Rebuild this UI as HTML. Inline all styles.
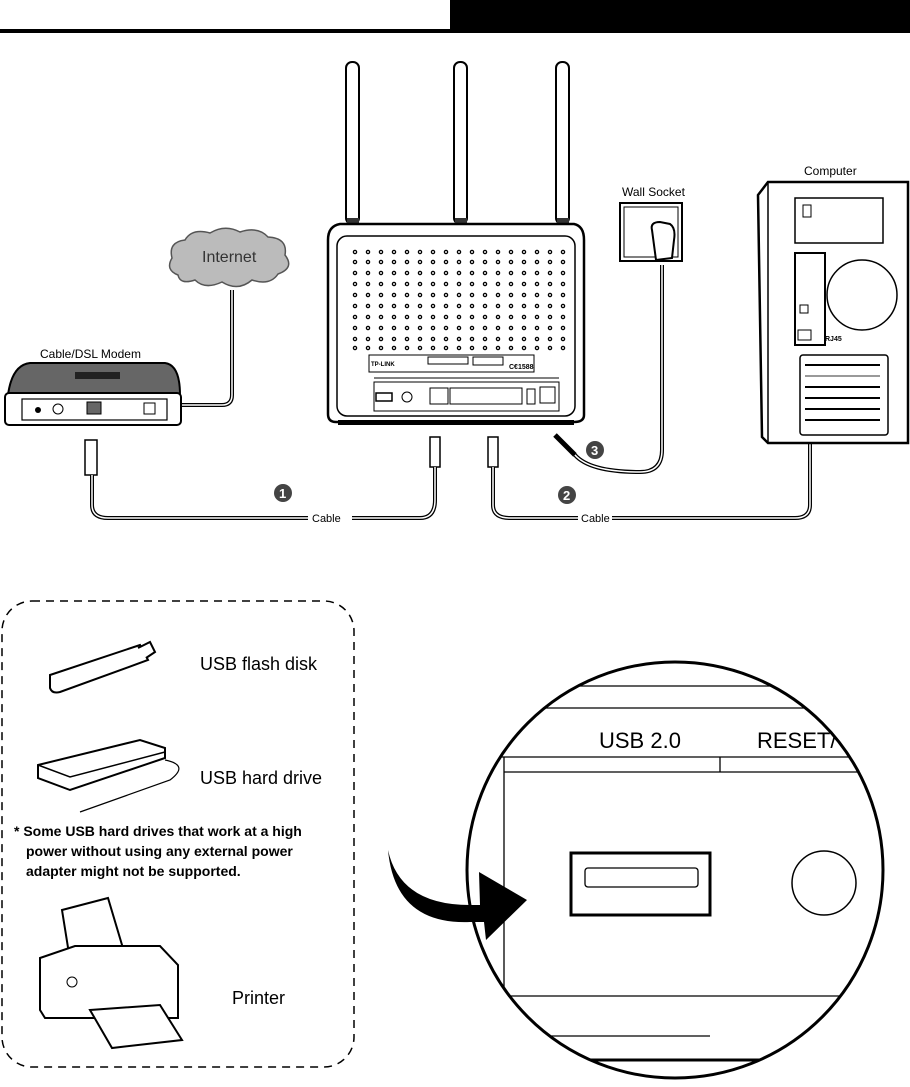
<!DOCTYPE html>
<html><head><meta charset="utf-8"><style>
html,body{margin:0;padding:0;background:#fff}
svg{display:block}
text{font-family:"Liberation Sans",sans-serif}
</style></head><body>
<svg width="910" height="1087" viewBox="0 0 910 1087" xmlns="http://www.w3.org/2000/svg">
<rect x="0" y="29" width="910" height="4" fill="#000"/>
<rect x="450" y="0" width="460" height="33" fill="#000"/>

<g fill="#fff" stroke="#000" stroke-width="2">
<rect x="346" y="62" width="13" height="162" rx="6"/>
<rect x="454" y="62" width="13" height="162" rx="6"/>
<rect x="556" y="62" width="13" height="162" rx="6"/>
</g>
<g fill="#333"><rect x="347" y="218" width="12" height="8"/><rect x="455" y="218" width="12" height="8"/><rect x="557" y="218" width="12" height="8"/></g>
<path d="M340 224 L574 224 Q584 226 584 240 L584 415 Q584 422 574 422 L336 422 Q328 422 328 414 L328 240 Q328 226 340 224 Z" fill="#fff" stroke="#000" stroke-width="2.5"/>
<rect x="337" y="236" width="238" height="180" rx="10" fill="none" stroke="#000" stroke-width="1.5"/>
<rect x="338" y="420" width="236" height="5" fill="#000"/>
<g fill="none" stroke="#000" stroke-width="1.3">
<g id="dr"><circle cx="355" cy="252" r="1.6"/><circle cx="368" cy="252" r="1.6"/><circle cx="381" cy="252" r="1.6"/><circle cx="394" cy="252" r="1.6"/><circle cx="407" cy="252" r="1.6"/><circle cx="420" cy="252" r="1.6"/><circle cx="433" cy="252" r="1.6"/><circle cx="446" cy="252" r="1.6"/><circle cx="459" cy="252" r="1.6"/><circle cx="472" cy="252" r="1.6"/><circle cx="485" cy="252" r="1.6"/><circle cx="498" cy="252" r="1.6"/><circle cx="511" cy="252" r="1.6"/><circle cx="524" cy="252" r="1.6"/><circle cx="537" cy="252" r="1.6"/><circle cx="550" cy="252" r="1.6"/><circle cx="563" cy="252" r="1.6"/></g>
<use href="#dr" y="10"/><use href="#dr" y="21"/><use href="#dr" y="32"/><use href="#dr" y="43"/><use href="#dr" y="54"/><use href="#dr" y="65"/><use href="#dr" y="76"/><use href="#dr" y="87"/><use href="#dr" y="96"/>
</g>
<g fill="none" stroke="#000" stroke-width="1">
<rect x="369" y="355" width="165" height="17"/>
<rect x="428" y="357" width="40" height="7"/>
<rect x="473" y="357" width="30" height="8"/>
<rect x="374" y="382" width="185" height="29"/>
<rect x="430" y="388" width="18" height="16"/>
<rect x="450" y="388" width="72" height="16"/>
<rect x="527" y="389" width="8" height="15"/>
<rect x="540" y="387" width="15" height="16"/>
<circle cx="407" cy="397" r="5"/>
</g>
<rect x="376" y="393" width="16" height="8" fill="none" stroke="#000" stroke-width="1.5"/>
<text x="371" y="366" font-size="6" font-weight="bold">TP-LINK</text>
<text x="509" y="369" font-size="7" font-weight="bold">C€1588</text>
<line x1="374" y1="378" x2="559" y2="378" stroke="#000" stroke-width="1"/>

<g fill="#fff" stroke="#000" stroke-width="1.5">
<rect x="430" y="437" width="10" height="30"/>
<rect x="488" y="437" width="10" height="30"/>
<rect x="85" y="440" width="12" height="35"/>
</g>
<path d="M555 435 L575 455" stroke="#000" stroke-width="5"/>
<circle cx="595" cy="450" r="9" fill="#444"/><text x="591" y="455" font-size="13" font-weight="bold" fill="#fff">3</text>
<circle cx="283" cy="493" r="9" fill="#444"/><text x="279" y="498" font-size="13" font-weight="bold" fill="#fff">1</text>
<circle cx="567" cy="495" r="9" fill="#444"/><text x="563" y="500" font-size="13" font-weight="bold" fill="#fff">2</text>

<g fill="none" stroke="#000" stroke-width="4">
<path d="M92 475 L92 505 Q92 518 108 518 L308 518"/>
<path d="M352 518 L420 518 Q435 518 435 500 L435 467"/>
<path d="M493 467 L493 505 Q493 518 510 518 L578 518"/>
<path d="M612 518 L795 518 Q810 518 810 505 L810 350"/>
<path d="M575 455 Q590 472 640 472 Q662 472 662 450 L662 265"/>
<path d="M232 290 L232 395 Q232 405 222 405 L155 405"/>
</g>
<g fill="none" stroke="#fff" stroke-width="1.5">
<path d="M92 475 L92 505 Q92 518 108 518 L308 518"/>
<path d="M352 518 L420 518 Q435 518 435 500 L435 467"/>
<path d="M493 467 L493 505 Q493 518 510 518 L578 518"/>
<path d="M612 518 L795 518 Q810 518 810 505 L810 350"/>
<path d="M575 455 Q590 472 640 472 Q662 472 662 450 L662 265"/>
<path d="M232 290 L232 395 Q232 405 222 405 L155 405"/>
</g>
<text x="312" y="522" font-size="11">Cable</text>
<text x="581" y="522" font-size="11">Cable</text>

<path d="M178 275 Q165 270 172 258 Q168 242 185 240 Q192 228 210 233 Q225 224 240 232 Q258 226 268 237 Q288 238 285 255 Q295 268 278 274 Q270 286 252 280 Q238 292 222 282 Q205 290 195 280 Q180 285 178 275 Z" fill="#bbb" stroke="#555" stroke-width="1.5"/>
<text x="202" y="262" font-size="16" fill="#333">Internet</text>

<text x="40" y="358" font-size="12">Cable/DSL Modem</text>
<path d="M8 395 Q12 365 30 363 L165 363 Q180 365 180 395 Z" fill="#666" stroke="#000" stroke-width="2"/>
<rect x="75" y="372" width="45" height="7" fill="#222"/>
<rect x="5" y="393" width="176" height="32" rx="4" fill="#fff" stroke="#000" stroke-width="2"/>
<rect x="22" y="399" width="145" height="21" fill="none" stroke="#000" stroke-width="1.2"/>
<circle cx="38" cy="410" r="3" fill="#000"/><circle cx="58" cy="409" r="5" fill="none" stroke="#000"/>
<rect x="87" y="402" width="14" height="12" fill="#666" stroke="#000"/>
<rect x="144" y="403" width="11" height="11" fill="#fff" stroke="#000"/>

<text x="622" y="196" font-size="12">Wall Socket</text>
<rect x="620" y="203" width="62" height="58" fill="#fff" stroke="#000" stroke-width="2"/>
<rect x="624" y="207" width="54" height="50" fill="none" stroke="#000" stroke-width="1"/>
<path d="M652 230 Q650 222 660 222 L670 224 Q676 228 674 240 L672 258 L656 260 Z" fill="#fff" stroke="#000" stroke-width="2"/>

<text x="804" y="175" font-size="12">Computer</text>
<path d="M768 182 L908 182 L908 443 L768 443 L762 437 L758 195 Z" fill="#fff" stroke="#000" stroke-width="2.5"/>
<line x1="768" y1="182" x2="768" y2="443" stroke="#000" stroke-width="1.5"/>
<rect x="795" y="198" width="88" height="45" fill="none" stroke="#000" stroke-width="1.5"/>
<rect x="803" y="205" width="8" height="12" fill="none" stroke="#000"/>
<circle cx="862" cy="295" r="35" fill="none" stroke="#000" stroke-width="1.5"/>
<rect x="795" y="253" width="30" height="92" fill="none" stroke="#000" stroke-width="2"/>
<rect x="798" y="330" width="13" height="10" fill="none" stroke="#000"/>
<rect x="800" y="305" width="8" height="8" fill="none" stroke="#000"/>
<rect x="800" y="355" width="88" height="80" rx="3" fill="none" stroke="#000" stroke-width="1.5"/>
<g stroke="#000" stroke-width="2"><line x1="805" y1="365" x2="880" y2="365"/><line x1="805" y1="376" x2="880" y2="376" stroke="#999"/><line x1="805" y1="387" x2="880" y2="387"/><line x1="805" y1="398" x2="880" y2="398"/><line x1="805" y1="409" x2="880" y2="409"/><line x1="805" y1="420" x2="880" y2="420"/></g>
<text x="825" y="341" font-size="7" font-weight="bold">RJ45</text>

<rect x="2" y="601" width="352" height="466" rx="30" fill="none" stroke="#000" stroke-width="1.5" stroke-dasharray="8,6"/>
<path d="M50 675 L140 645 L148 660 L60 692 Q52 694 50 688 Z" fill="#fff" stroke="#000" stroke-width="2"/>
<path d="M138 648 L150 642 L155 652 L146 658" fill="#fff" stroke="#000" stroke-width="2"/>
<text x="200" y="670" font-size="18">USB flash disk</text>
<path d="M38 765 L140 740 L165 748 L165 758 L70 790 L38 778 Z" fill="#fff" stroke="#000" stroke-width="2"/>
<path d="M38 765 L70 777 L165 752" fill="none" stroke="#000" stroke-width="1.5"/>
<path d="M165 760 Q190 765 170 780 L80 812" fill="none" stroke="#000" stroke-width="1.2"/>
<text x="200" y="784" font-size="18">USB hard drive</text>
<text x="14" y="836" font-size="14" font-weight="bold">* Some USB hard drives that work at a high</text>
<text x="26" y="856" font-size="14" font-weight="bold">power without using any external power</text>
<text x="26" y="876" font-size="14" font-weight="bold">adapter might not be supported.</text>
<path d="M62 910 L108 898 L125 955 L70 960 Z" fill="#fff" stroke="#000" stroke-width="2"/>
<path d="M40 958 L75 946 L160 946 L178 965 L178 1018 L45 1018 L40 1010 Z" fill="#fff" stroke="#000" stroke-width="2"/>
<path d="M90 1010 L160 1005 L182 1040 L112 1048 Z" fill="#fff" stroke="#000" stroke-width="2"/>
<circle cx="72" cy="982" r="5" fill="none" stroke="#000"/>
<text x="232" y="1004" font-size="18">Printer</text>

<clipPath id="cc"><circle cx="675" cy="870" r="208"/></clipPath>
<g clip-path="url(#cc)" stroke="#000" stroke-width="1.3" fill="none">
<line x1="460" y1="686" x2="910" y2="686"/>
<line x1="460" y1="708" x2="910" y2="708"/>
<line x1="460" y1="757" x2="910" y2="757"/>
<line x1="504" y1="772" x2="910" y2="772"/>
<line x1="720" y1="757" x2="720" y2="772"/>
<line x1="504" y1="757" x2="504" y2="996"/>
<line x1="460" y1="996" x2="910" y2="996"/>
<line x1="460" y1="1036" x2="710" y2="1036"/>
<line x1="460" y1="1060" x2="910" y2="1060" stroke-width="3"/>
</g>
<g clip-path="url(#cc)"><text x="599" y="748" font-size="22">USB 2.0</text><text x="757" y="748" font-size="22">RESET/</text></g>
<circle cx="675" cy="870" r="208" fill="none" stroke="#000" stroke-width="3"/>
<rect x="571" y="853" width="139" height="62" fill="none" stroke="#000" stroke-width="3"/>
<rect x="585" y="868" width="113" height="19" rx="3" fill="none" stroke="#000" stroke-width="1.3"/>
<circle cx="824" cy="883" r="32" fill="none" stroke="#000" stroke-width="1.5"/>
<path d="M388 850 Q400 905 470 905 L480 905 L479 872 L527 900 L486 940 L484 922 L470 922 Q395 925 388 850 Z" fill="#000"/>
</svg>
</body></html>
